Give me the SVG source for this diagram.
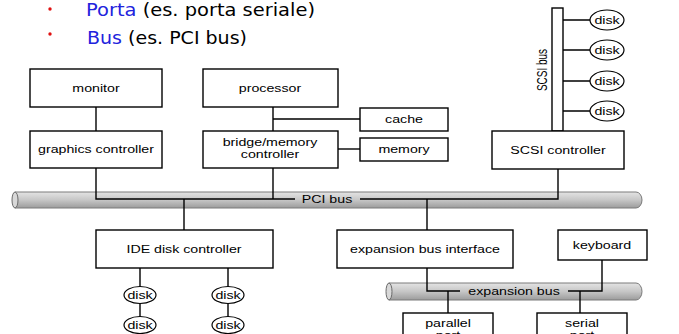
<svg xmlns="http://www.w3.org/2000/svg" width="679" height="334" viewBox="0 0 679 334">
  <defs>
    <linearGradient id="busFill" x1="0" y1="0" x2="0" y2="1">
      <stop offset="0" stop-color="#e4e4e4"/>
      <stop offset="0.5" stop-color="#c6c6c6"/>
      <stop offset="1" stop-color="#9c9c9c"/>
    </linearGradient>
  </defs>
  <style>
    .box { fill: #fff; stroke: #000; stroke-width: 1.4; }
    .disk { fill: #fff; stroke: #000; stroke-width: 1.2; }
    .wire { fill: none; stroke: #000; stroke-width: 1.4; }
    .bus { fill: url(#busFill); stroke: #7a7a7a; stroke-width: 1; }
    .busEnd { fill: #d8d8d8; stroke: #6a6a6a; stroke-width: 1; }
    .t { font-family: "Liberation Sans", Arial, sans-serif; font-size: 10px; text-anchor: middle; fill: #000; }
    .head { font-family: "DejaVu Sans", "Comic Sans MS", sans-serif; font-size: 18px; fill: #000; }
    .hl { fill: #2222dd; }
    .dot { fill: #e01010; }
  </style>

  <!-- slide bullets -->
  <g id="bullets">
    <circle class="dot" cx="50" cy="9" r="1.7"/>
    <circle class="dot" cx="50" cy="34" r="1.7"/>
    <text class="head" x="86" y="16" textLength="229" lengthAdjust="spacingAndGlyphs"><tspan class="hl">Porta</tspan> (es. porta seriale)</text>
    <text class="head" x="87" y="44" textLength="160" lengthAdjust="spacingAndGlyphs"><tspan class="hl">Bus</tspan> (es. PCI bus)</text>
  </g>

  <!-- buses (cylinders) -->
  <g id="pci-bus">
    <path class="bus" d="M15,192 H636 A6,8 0 0 1 636,208 H15 Z"/>
    <ellipse class="busEnd" cx="15" cy="200" rx="3" ry="8"/>
  </g>
  <g id="expansion-bus">
    <path class="bus" d="M389,283 H636 A6,8.5 0 0 1 636,300 H389 Z"/>
    <ellipse class="busEnd" cx="389" cy="291.5" rx="3" ry="8.5"/>
  </g>
  <g id="scsi-bus">
    <rect class="box" x="552" y="8" width="11" height="123"/>
    <text class="t" transform="translate(546.5,70) rotate(-90) scale(1,1.42)">SCSI bus</text>
  </g>

  <!-- connectors -->
  <g id="connectors">
    <path class="wire" d="M96,107 V131"/>
    <path class="wire" d="M273,107 V131 M273,119 H360"/>
    <path class="wire" d="M338,149 H360"/>
    <path class="wire" d="M96,168 V199 H295 M273,168 V199"/>
    <path class="wire" d="M360,199 H558 V169"/>
    <path class="wire" d="M184,199 V230"/>
    <path class="wire" d="M427,199 V230"/>
    <path class="wire" d="M140,268 V287 M140,303 V317"/>
    <path class="wire" d="M228,268 V287 M228,303 V317"/>
    <path class="wire" d="M427,268 V291 H460"/>
    <path class="wire" d="M568,291 H602 V260"/>
    <path class="wire" d="M448,291 V313"/>
    <path class="wire" d="M580,291 V313"/>
    <path class="wire" d="M563,20 H590 M563,50 H590 M563,81 H590 M563,111 H590"/>
    <text class="t" transform="translate(327,203) scale(1.42,1)">PCI bus</text>
    <text class="t" transform="translate(514,295) scale(1.42,1)">expansion bus</text>
  </g>

  <!-- nodes -->
  <g id="monitor">
    <rect class="box" x="30" y="69" width="132" height="38"/>
    <text class="t" transform="translate(96,92) scale(1.42,1)">monitor</text>
  </g>
  <g id="processor">
    <rect class="box" x="203" y="69" width="135" height="38"/>
    <text class="t" transform="translate(270,92) scale(1.42,1)">processor</text>
  </g>
  <g id="cache">
    <rect class="box" x="360" y="108" width="88" height="23"/>
    <text class="t" transform="translate(404,123) scale(1.42,1)">cache</text>
  </g>
  <g id="graphics-controller">
    <rect class="box" x="30" y="131" width="132" height="37"/>
    <text class="t" transform="translate(96,153) scale(1.42,1)">graphics controller</text>
  </g>
  <g id="bridge-memory-controller">
    <rect class="box" x="203" y="131" width="135" height="37"/>
    <text class="t" transform="translate(270,146) scale(1.42,1)">bridge/memory</text>
    <text class="t" transform="translate(270,158) scale(1.42,1)">controller</text>
  </g>
  <g id="memory">
    <rect class="box" x="360" y="138" width="88" height="23"/>
    <text class="t" transform="translate(404,153) scale(1.42,1)">memory</text>
  </g>
  <g id="scsi-controller">
    <rect class="box" x="492" y="131" width="132" height="38"/>
    <text class="t" transform="translate(558,154) scale(1.42,1)">SCSI controller</text>
  </g>
  <g id="scsi-disk-1">
    <ellipse class="disk" cx="607" cy="20" rx="17" ry="10"/>
    <text class="t" transform="translate(607,24) scale(1.42,1)">disk</text>
  </g>
  <g id="scsi-disk-2">
    <ellipse class="disk" cx="607" cy="50" rx="17" ry="10"/>
    <text class="t" transform="translate(607,54) scale(1.42,1)">disk</text>
  </g>
  <g id="scsi-disk-3">
    <ellipse class="disk" cx="607" cy="81" rx="17" ry="10"/>
    <text class="t" transform="translate(607,85) scale(1.42,1)">disk</text>
  </g>
  <g id="scsi-disk-4">
    <ellipse class="disk" cx="607" cy="111" rx="17" ry="10"/>
    <text class="t" transform="translate(607,115) scale(1.42,1)">disk</text>
  </g>
  <g id="ide-disk-controller">
    <rect class="box" x="96" y="230" width="177" height="38"/>
    <text class="t" transform="translate(184,253) scale(1.42,1)">IDE disk controller</text>
  </g>
  <g id="ide-disk-1">
    <ellipse class="disk" cx="140" cy="295" rx="16" ry="8.5"/>
    <text class="t" transform="translate(140,299) scale(1.42,1)">disk</text>
  </g>
  <g id="ide-disk-2">
    <ellipse class="disk" cx="140" cy="325" rx="16" ry="8.5"/>
    <text class="t" transform="translate(140,329) scale(1.42,1)">disk</text>
  </g>
  <g id="ide-disk-3">
    <ellipse class="disk" cx="228" cy="295" rx="16" ry="8.5"/>
    <text class="t" transform="translate(228,299) scale(1.42,1)">disk</text>
  </g>
  <g id="ide-disk-4">
    <ellipse class="disk" cx="228" cy="325" rx="16" ry="8.5"/>
    <text class="t" transform="translate(228,329) scale(1.42,1)">disk</text>
  </g>
  <g id="expansion-bus-interface">
    <rect class="box" x="337" y="230" width="176" height="38"/>
    <text class="t" transform="translate(425,253) scale(1.42,1)">expansion bus interface</text>
  </g>
  <g id="keyboard">
    <rect class="box" x="558" y="230" width="89" height="30"/>
    <text class="t" transform="translate(602,249) scale(1.42,1)">keyboard</text>
  </g>
  <g id="parallel-port">
    <rect class="box" x="403" y="313" width="90" height="40"/>
    <text class="t" transform="translate(448,327) scale(1.42,1)">parallel</text>
    <text class="t" transform="translate(448,339) scale(1.42,1)">port</text>
  </g>
  <g id="serial-port">
    <rect class="box" x="537" y="313" width="90" height="40"/>
    <text class="t" transform="translate(582,327) scale(1.42,1)">serial</text>
    <text class="t" transform="translate(582,339) scale(1.42,1)">port</text>
  </g>
</svg>
